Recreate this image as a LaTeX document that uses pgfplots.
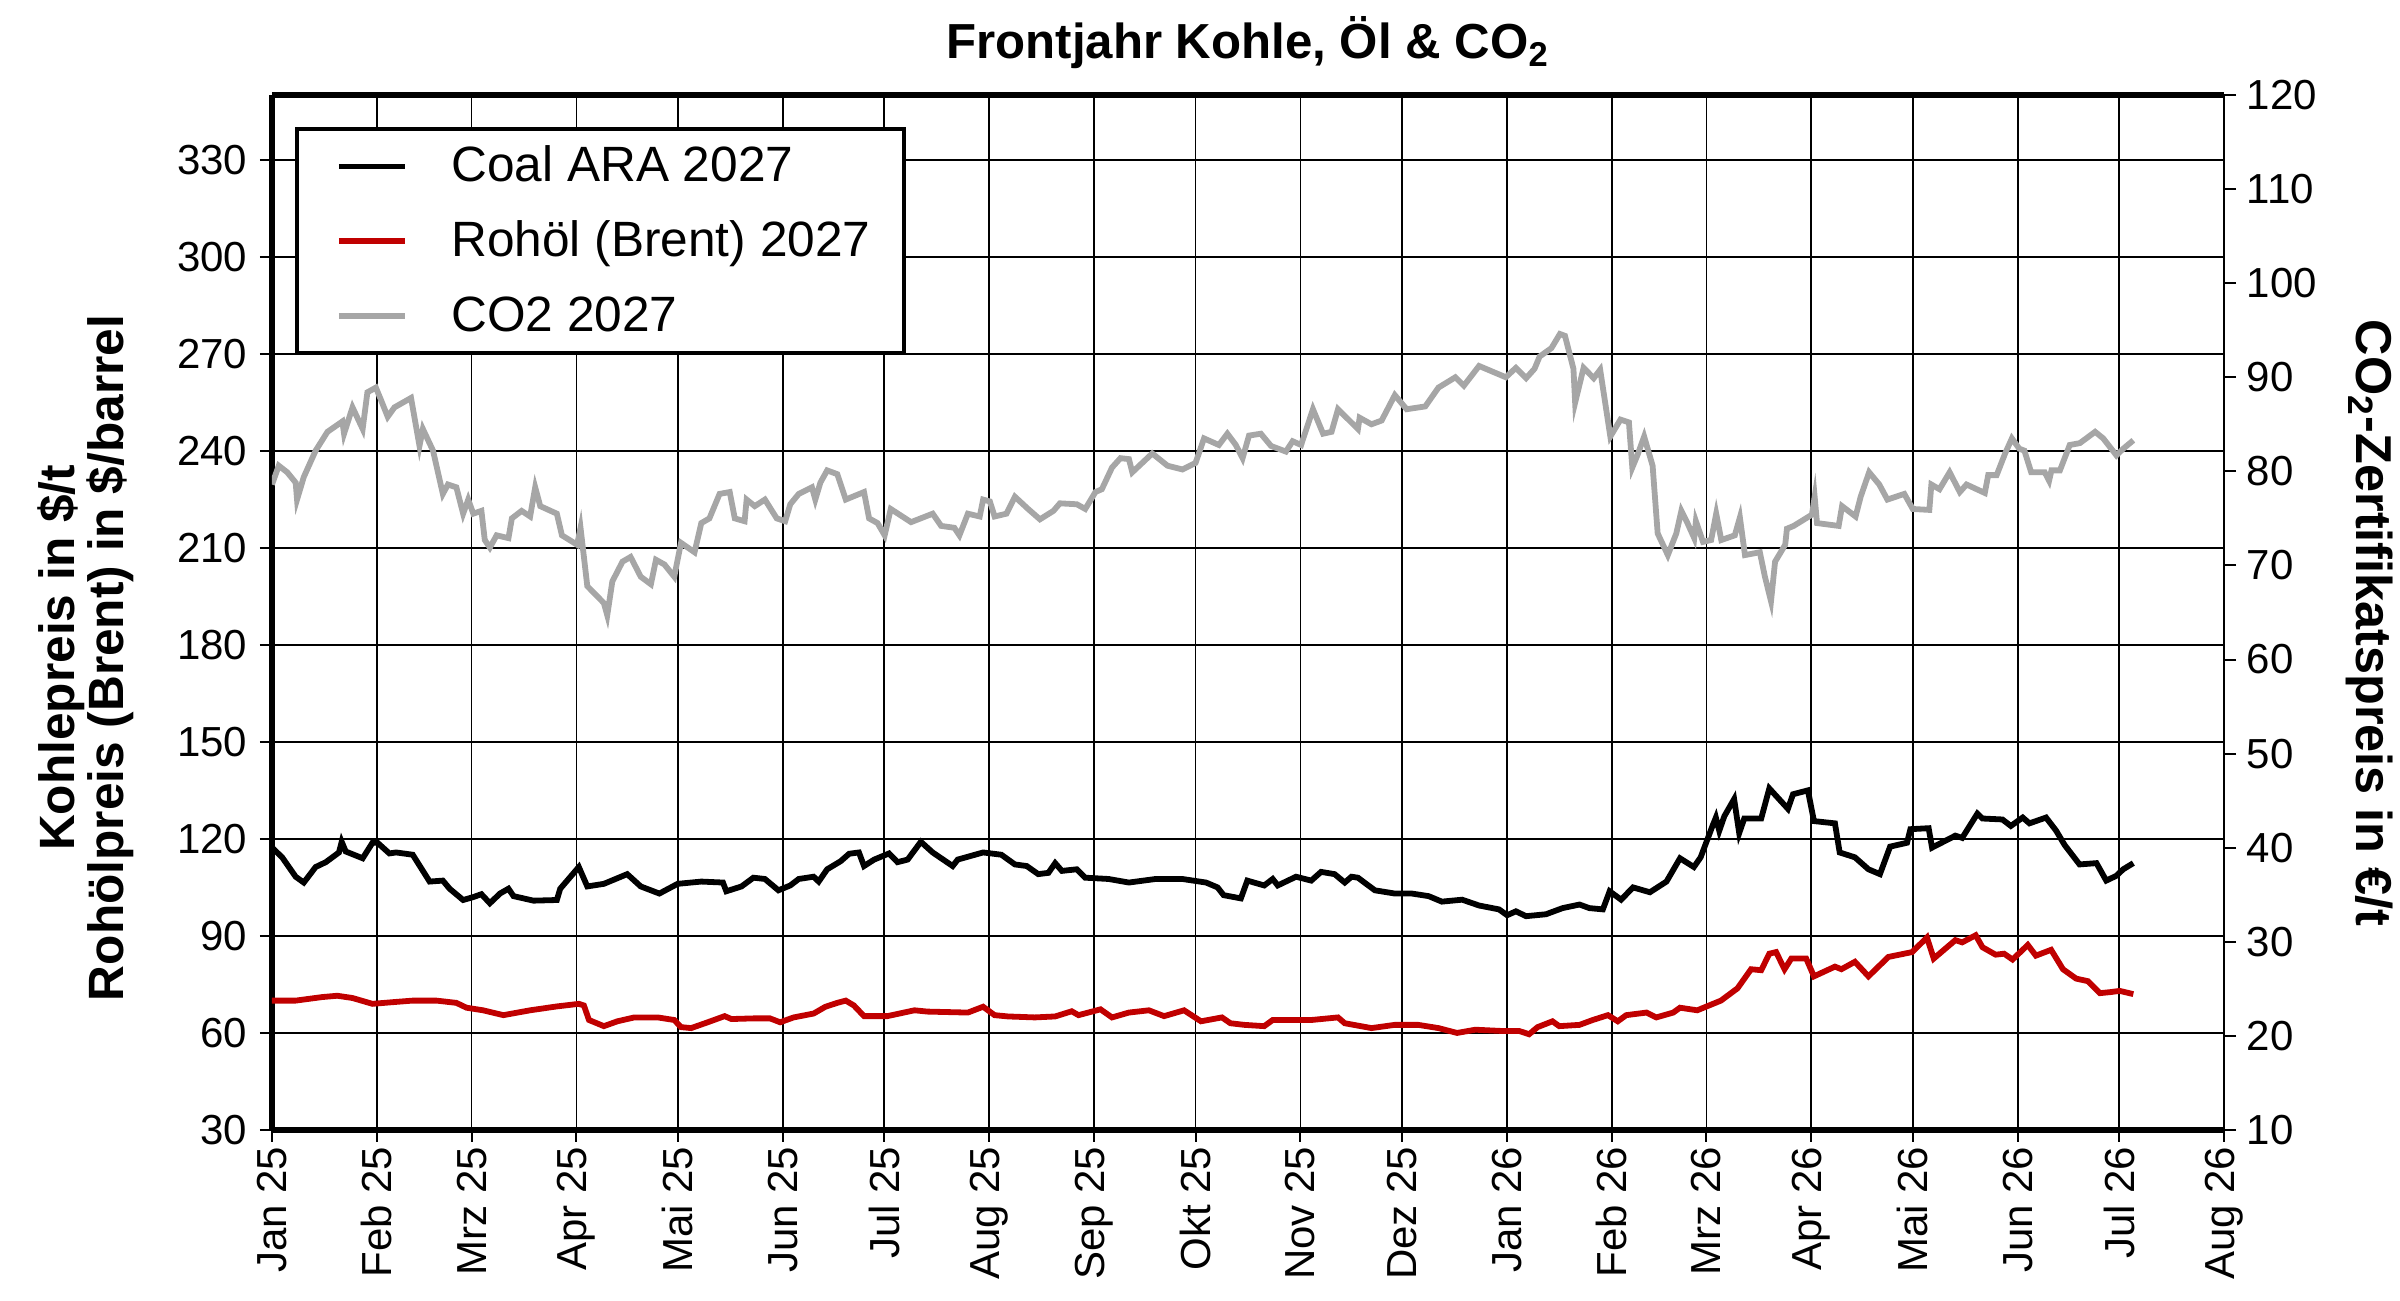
\documentclass[border=0pt]{standalone}
\usepackage{fontspec}
\setmainfont{Liberation Sans}
\usepackage{pgfplots}
\pgfplotsset{compat=1.18}
\definecolor{oilc}{RGB}{192,0,0}
\definecolor{co2c}{RGB}{166,166,166}
\begin{document}
\begin{tikzpicture}
\useasboundingbox (-68pt,-42.75pt) rectangle (532pt,282.5pt);
\begin{axis}[
 scale only axis, width=488pt, height=258.75pt,
 xmin=0, xmax=577, ymin=30, ymax=350,
 separate axis lines,
 axis x line*=box, axis y line*=left,
 axis line style={line width=1.4pt},
 xtick={0,31,59,90,120,151,181,212,243,273,304,334,365,396,424,455,485,516,546,577},
 xticklabels={Jan 25,Feb 25,Mrz 25,Apr 25,Mai 25,Jun 25,Jul 25,Aug 25,Sep 25,Okt 25,Nov 25,Dez 25,Jan 26,Feb 26,Mrz 26,Apr 26,Mai 26,Jun 26,Jul 26,Aug 26},
 ytick={30,60,...,330},
 grid=major, grid style={black, line width=0.45pt},
 tick align=outside, major tick length=3pt,
 tick style={black, line width=0.5pt},
 xtick pos=left, ytick pos=left,
 ticklabel style={font=\fontsize{10.5}{12}\selectfont},
 xticklabel style={rotate=90, anchor=east, inner sep=1pt},
 yticklabel style={inner sep=1.5pt, xshift=-1.5pt},
 /pgf/number format/assume math mode=true,
 legend style={at={(0.0119,0.969)}, anchor=north west, draw=black, line width=1pt, fill=white,
   font=\fontsize{12.4}{14}\selectfont, inner xsep=4.3pt, inner ysep=0pt, row sep=0pt,
   nodes={text height=9.6pt, text depth=1.9pt, inner ysep=3.6pt, inner xsep=4pt},
   cells={anchor=west},
   /tikz/every odd column/.append style={column sep=6.9pt}},
 legend image code/.code={\path (0pt,0pt); \draw[#1] (5.4pt,0pt) -- (21.9pt,0pt);},
]
\addplot[black, line width=1.45pt] coordinates {
(0,117.3) (3,114.3) (7,108.3) (9.4,106.5) (12.9,111.3) (15.9,112.8) (19.8,115.8) (20.6,119.1) (21.8,116.1) (26.8,114.0) (29.7,118.8) (31.2,118.8) (34.7,115.5) (36.7,115.8) (41.6,115.1) (46.6,106.8) (50.5,107.1) (52.5,104.6) (56.5,101.1) (59.5,102.0) (61.9,102.9) (64.4,100.1) (67.4,103.1) (69.9,104.6) (71.4,102.3) (77.3,100.9) (84.2,101.1) (85.2,104.6) (90.7,111.3) (93.2,105.3) (98.1,106.1) (105,109.1) (109,105.3) (114.5,103.1) (119.9,106.1) (126.9,106.8) (133.3,106.5) (134.3,103.8) (138.8,105.3) (142.3,108.0) (145.7,107.6) (149.7,104.1) (153.2,105.6) (155.7,107.6) (160.1,108.3) (161.6,106.8) (164.1,110.6) (168.1,113.1) (170.6,115.4) (173.5,115.8) (175.0,111.6) (178.0,113.6) (182.4,115.5) (184.9,112.8) (187.9,113.6) (191.8,119.1) (195.3,115.8) (201.2,111.6) (202.7,113.6) (210.2,115.8) (215.6,115.1) (219.6,112.1) (223.1,111.6) (226.5,109.1) (229.5,109.5) (231.5,112.5) (233.5,110.1) (237.9,110.6) (240.4,108.0) (247.3,107.6) (253.3,106.5) (261.2,107.6) (269.1,107.6) (276.1,106.5) (279.5,105.0) (281.3,102.6) (286.4,101.6) (288.3,107.1) (293.3,105.6) (295.8,107.6) (297.3,105.6) (302.7,108.3) (307.2,107.1) (310.1,109.8) (314.1,109.1) (317.1,106.5) (319.1,108.3) (321.0,108.0) (326.0,104.1) (331.9,103.1) (336.9,103.1) (341.9,102.3) (345.8,100.6) (351.8,101.2) (356.8,99.4) (362.7,98.2) (365.1,96.4) (367.7,97.6) (370.7,96.1) (376.6,96.7) (381.5,98.6) (386.5,99.7) (389.4,98.6) (393.4,98.2) (395.4,103.8) (398.8,101.2) (402.3,105.0) (407.3,103.5) (412.2,106.8) (416.2,114.0) (420.3,111.3) (422.3,114.3) (425.8,124.0) (426.8,126.6) (427.8,122.5) (429.3,127.0) (432.2,132.3) (433.7,121.8) (435.2,126.3) (440.2,126.3) (442.6,135.6) (448.1,129.3) (449.6,133.8) (454.0,135.0) (455.8,125.5) (462.0,124.8) (463.4,115.8) (467.9,114.3) (471.9,110.6) (475.3,109.1) (478.3,117.6) (483.3,118.8) (484.3,123.0) (489.7,123.3) (490.7,117.3) (497.6,121.0) (499.6,120.3) (504.1,127.8) (505.6,126.3) (511.5,126.0) (514.0,124.0) (517.5,126.6) (519.5,124.8) (524.4,126.6) (527.4,122.5) (529.9,118.1) (534.3,112.1) (539.3,112.5) (542.2,107.1) (545.2,108.6) (547.2,110.6) (550.2,112.5)
};
\addlegendentry{Coal ARA 2027}
\addplot[oilc, line width=1.45pt] coordinates {
(0,70.0) (7,70.0) (14.9,71.1) (19.3,71.5) (23.8,70.8) (29.7,69.0) (36.7,69.6) (41.6,70.0) (48.6,70.0) (54.5,69.3) (57.5,67.8) (62.4,67.0) (68.4,65.5) (76.3,67.0) (84.2,68.2) (90.7,69.0) (92.2,68.5) (93.7,64.0) (98.1,62.1) (102.1,63.6) (107.1,64.8) (114,64.8) (118.9,64.0) (120.9,61.8) (123.9,61.5) (128.8,63.3) (133.8,65.2) (135.8,64.3) (142.3,64.5) (147.2,64.5) (150.2,63.3) (154.2,64.8) (160.1,66.0) (163.6,68.1) (167.1,69.3) (169.6,70.0) (172.0,68.5) (175.0,65.2) (181.9,65.2) (189.9,67.0) (193.8,66.6) (205.7,66.3) (210.2,68.1) (213.6,65.5) (217.6,65.1) (225.5,64.8) (231.5,65.1) (236.4,66.7) (238.4,65.5) (244.9,67.3) (248.3,64.8) (253.3,66.3) (259.2,67.0) (263.7,65.2) (269.6,67.0) (274.6,63.6) (280.8,64.8) (283.3,63.0) (287.4,62.5) (293.3,62.1) (295.8,64.0) (307.2,64.0) (315.1,64.8) (317.1,63.0) (325.0,61.5) (331.9,62.5) (338.8,62.5) (344.8,61.5) (350.3,60.0) (355.7,61.0) (363.7,60.6) (368.7,60.6) (371.6,59.6) (374.1,61.8) (378.5,63.6) (380.5,62.1) (386.5,62.5) (390.4,64.0) (394.9,65.5) (397.8,63.6) (400.3,65.5) (406.3,66.3) (409.2,64.8) (414.2,66.3) (416.2,67.8) (421.3,67.0) (428.3,70.0) (433.2,73.8) (437.2,79.7) (440.2,79.4) (442.6,84.5) (444.6,85.0) (447.1,79.7) (449.1,83.0) (453.5,83.0) (455.8,77.5) (462.0,80.5) (463.9,79.7) (467.9,82.0) (471.9,77.5) (477.8,83.5) (484.8,85.0) (489.2,89.5) (491.2,83.0) (497.6,88.7) (499.6,88.0) (503.6,90.2) (505.6,86.5) (509.5,84.2) (512.0,84.5) (514.5,82.7) (519.0,87.2) (521.4,83.9) (525.9,85.7) (529.4,79.7) (533.3,76.8) (536.8,76.0) (540.3,72.3) (543.2,72.6) (546.2,73.0) (550.2,72.0)
};
\addlegendentry{Rohöl (Brent) 2027}
\addlegendimage{co2c, line width=1.45pt}
\addlegendentry{CO2 2027}
\end{axis}
\begin{axis}[
 scale only axis, width=488pt, height=258.75pt,
 xmin=0, xmax=577, ymin=10, ymax=120,
 axis x line=none, axis y line*=right,
 axis line style={line width=0.6pt},
 ytick={10,20,...,120},
 tick align=outside, major tick length=3pt,
 tick style={black, line width=0.5pt},
 ticklabel style={font=\fontsize{10.5}{12}\selectfont},
 yticklabel style={inner sep=1.5pt, xshift=1pt},
 /pgf/number format/assume math mode=true,
]
\addplot[co2c, line width=1.45pt] coordinates {
(0,78.6) (2,80.6) (4.5,79.9) (7,78.8) (7.4,77.0) (9.4,79.4) (12.9,82.2) (16.4,84.2) (20.8,85.3) (21.3,84.0) (23.8,86.8) (26.8,84.5) (28.2,88.4) (30.7,88.9) (32.2,87.6) (34.2,85.8) (36.2,86.8) (41.1,87.8) (43.6,82.7) (44.6,84.5) (47.6,82.2) (50.5,77.6) (52,78.6) (54.5,78.3) (56.5,75.5) (58,77.0) (59.5,75.5) (61.9,75.8) (62.9,72.7) (64.4,71.9) (66.4,73.2) (69.9,72.9) (70.9,75.0) (73.8,75.8) (76.3,75.2) (77.8,78.3) (79.3,76.3) (84.2,75.5) (85.7,73.2) (90.2,72.2) (91.2,74.0) (93.2,67.8) (98.1,66.0) (99.1,64.7) (100.6,68.3) (103.6,70.4) (106,70.9) (109,68.8) (112,68.0) (113.5,70.6) (116,70.1) (118.9,68.8) (120.9,72.4) (124.9,71.4) (126.9,74.5) (129.3,75.0) (132.3,77.6) (135.3,77.8) (136.8,75.0) (139.7,74.7) (140.3,77.0) (142.7,76.3) (145.7,77.0) (149.2,75.0) (151.7,74.7) (153.2,76.5) (155.7,77.6) (159.6,78.3) (160.6,77.0) (162.1,78.8) (164.1,80.1) (167.1,79.7) (169.6,77.0) (175.0,77.8) (176.5,75.0) (179.0,74.5) (181.1,73.2) (182.9,76.0) (188.9,74.6) (195.3,75.5) (197.8,74.2) (201.7,74.0) (203.2,73.2) (205.7,75.5) (209.2,75.2) (210.2,77.0) (212.2,76.8) (213.6,75.2) (217.1,75.5) (219.6,77.3) (223.5,76.0) (227.0,74.9) (231.0,75.8) (232.9,76.6) (237.9,76.5) (240.4,76.0) (243.4,77.8) (245.3,78.1) (248.3,80.4) (250.8,81.4) (253.3,81.3) (254.3,79.9) (260.2,81.9) (264.7,80.6) (269.1,80.2) (273.0,80.9) (275.5,83.5) (279.9,82.8) (282.4,84.0) (284.9,82.8) (286.9,81.4) (288.8,83.8) (292.3,84.0) (295.3,82.7) (299.7,82.1) (301.7,83.2) (304.2,82.8) (307.7,86.6) (310.7,84.0) (313.2,84.2) (315.1,86.6) (321.0,84.5) (321.5,85.7) (325.0,85.0) (328.0,85.4) (331.9,88.1) (335.4,86.6) (340.9,86.9) (344.8,88.9) (349.8,90.0) (352.3,89.1) (356.8,91.2) (364.7,90.0) (367.7,91.0) (370.7,89.9) (373.2,90.9) (374.7,92.2) (378.2,93.1) (380.7,94.6) (382.2,94.4) (384.7,90.9) (385.2,87.3) (387.7,91.0) (390.7,89.9) (392.6,90.8) (395.6,83.7) (398.6,85.5) (401.1,85.2) (402.1,80.4) (403.6,81.7) (405.6,83.7) (408.1,80.6) (409.6,73.4) (412.6,71.1) (415.1,73.4) (416.6,75.8) (418.4,74.5) (420.4,72.9) (420.9,74.7) (423.0,72.5) (425.4,72.7) (426.9,75.5) (428.4,72.7) (432.4,73.2) (433.9,75.1) (435.4,71.1) (439.8,71.4) (441.3,68.8) (443.1,66.2) (444.3,70.4) (447.3,72.2) (447.8,73.9) (449.8,74.2) (455.2,75.4) (456.0,77.3) (456.7,74.5) (463.1,74.2) (464.1,76.3) (468.1,75.2) (469.6,77.3) (472.1,79.9) (475.1,78.6) (477.5,77.0) (482.5,77.6) (485.0,76.0) (489.9,75.9) (490.5,78.6) (492.9,78.1) (495.9,79.9) (498.9,77.8) (500.9,78.6) (506.3,77.7) (507.3,79.6) (509.8,79.6) (512.3,81.9) (514.3,83.5) (516.5,82.4) (518.0,82.2) (520.0,79.9) (524.0,79.9) (525.3,79.0) (526.0,80.1) (528.5,80.1) (531.4,82.8) (534.4,83.0) (538.9,84.2) (541.3,83.5) (545.2,81.7) (547.2,82.4) (550.2,83.3)
};
\end{axis}
\node[font=\bfseries\fontsize{12.3}{14}\selectfont] at (244pt,271.75pt) {Frontjahr Kohle, Öl \& CO\textsubscript{2}};
\node[font=\bfseries\fontsize{12.4}{14}\selectfont, rotate=90] at (-52.7pt,118pt) {Kohlepreis in \$/t};
\node[font=\bfseries\fontsize{12.4}{14}\selectfont, rotate=90] at (-40.4pt,118pt) {Rohölpreis (Brent) in \$/barrel};
\node[font=\bfseries\fontsize{12.6}{14}\selectfont, rotate=-90] at (524.3pt,126.7pt) {CO\textsubscript{2}-Zertifikatspreis in €/t};
\end{tikzpicture}
\end{document}
